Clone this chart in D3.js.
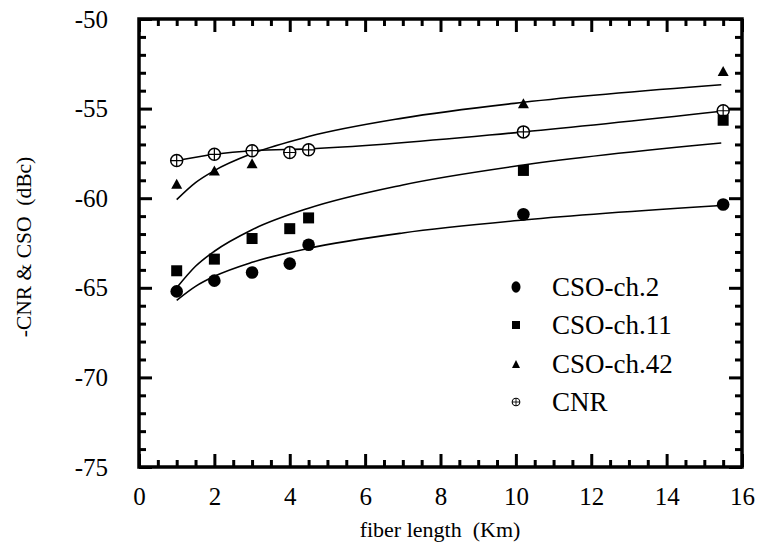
<!DOCTYPE html>
<html><head><meta charset="utf-8">
<script src="https://cdn.jsdelivr.net/npm/d3@7"></script>
<style>
body{margin:0;background:#fff;}
svg text{font-family:"Liberation Serif","Times New Roman",Times,serif !important;fill:#000;}
</style></head>
<body>
<svg id="chart" width="758" height="554"></svg>
<script>
// ---- data ----
const seriesNames = ["CSO-ch.2", "CSO-ch.11", "CSO-ch.42", "CNR"];
const xMeasured = [1, 2, 3, 4, 4.5, 10.2, 15.5];
const cso2 = [-65.2, -64.6, -64.15, -63.65, -62.6, -60.9, -60.35];
const cso11 = [-64.05, -63.4, -62.25, -61.7, -61.1, -58.45, -55.65];
const xCso42 = [1, 2, 3, 10.2, 15.5];
const cso42 = [-59.2, -58.45, -58.05, -54.7, -52.9];
const cnr = [-57.9, -57.55, -57.35, -57.45, -57.3, -56.3, -55.12];
// fitted curves as drawn in the picture
const xFit = [1, 1.5, 2, 3, 4.5, 7, 10.2, 15.45];
const fitCso2 = [-65.7, -64.92, -64.36, -63.58, -62.8, -61.94, -61.22, -60.41];
const fitCso11 = [-65.0, -63.8, -62.96, -61.76, -60.56, -59.26, -58.15, -56.92];
const fitCso42 = [-60.08, -59.13, -58.46, -57.51, -56.56, -55.53, -54.65, -53.67];
const xCnrLine = [1, 2, 3, 4.5, 10.2, 15.45];
const cnrLine = [-57.9, -57.55, -57.35, -57.25, -56.3, -55.15];
const xTicks = [0, 2, 4, 6, 8, 10, 12, 14, 16];
const yTicks = [-50, -55, -60, -65, -70, -75];

const FONT = '"Liberation Serif", "Times New Roman", Times, serif';
const svg = d3.select("#chart");
const x = d3.scaleLinear().domain([0, 16]).range([139, 742]);
const y = d3.scaleLinear().domain([-75, -50]).range([467, 19]);

const xMinor = d3.range(0, 16.01, 0.5).filter(v => v % 2 !== 0);
const yMinor = d3.range(-75, -49.99, 1).filter(v => v % 5 !== 0);

function styleAxis(g, w) {
  g.attr("font-family", null).style("font-family", FONT);
  g.select(".domain").remove();
  g.selectAll(".tick line").attr("stroke", "#000").attr("stroke-width", w);
  g.selectAll("text").style("font-family", FONT).attr("font-size", 25);
}
// bottom
svg.append("g").attr("transform", `translate(0,467)`)
  .call(d3.axisBottom(x).tickValues(xTicks).tickSize(-13).tickPadding(20).tickFormat(d3.format("d")))
  .call(g => styleAxis(g, 3));
svg.append("g").attr("transform", `translate(0,467)`)
  .call(d3.axisBottom(x).tickValues(xMinor).tickSize(-7).tickFormat(""))
  .call(g => styleAxis(g, 3));
// top
svg.append("g").attr("transform", `translate(0,19)`)
  .call(d3.axisTop(x).tickValues(xTicks).tickSize(-13).tickFormat(""))
  .call(g => styleAxis(g, 3));
svg.append("g").attr("transform", `translate(0,19)`)
  .call(d3.axisTop(x).tickValues(xMinor).tickSize(-7).tickFormat(""))
  .call(g => styleAxis(g, 3));
// left
svg.append("g").attr("transform", `translate(139,0)`)
  .call(d3.axisLeft(y).tickValues(yTicks).tickSize(-13).tickPadding(31).tickFormat(d => "-" + Math.abs(d)))
  .call(g => styleAxis(g, 3));
svg.append("g").attr("transform", `translate(139,0)`)
  .call(d3.axisLeft(y).tickValues(yMinor).tickSize(-7).tickFormat(""))
  .call(g => styleAxis(g, 3));
// right
svg.append("g").attr("transform", `translate(742,0)`)
  .call(d3.axisRight(y).tickValues(yTicks).tickSize(-13).tickFormat(""))
  .call(g => styleAxis(g, 3));
svg.append("g").attr("transform", `translate(742,0)`)
  .call(d3.axisRight(y).tickValues(yMinor).tickSize(-7).tickFormat(""))
  .call(g => styleAxis(g, 3));

// frame
svg.append("rect").attr("x", x(0)).attr("y", y(-50))
  .attr("width", x(16) - x(0)).attr("height", y(-75) - y(-50))
  .attr("fill", "none").attr("stroke", "#000").attr("stroke-width", 3.5);

// curves
const line = d3.line().x(d => x(d[0])).y(d => y(d[1])).curve(d3.curveMonotoneX);
const curves = [
  d3.zip(xFit, fitCso2), d3.zip(xFit, fitCso11), d3.zip(xFit, fitCso42), d3.zip(xCnrLine, cnrLine)
];
svg.append("g").selectAll("path").data(curves).join("path")
  .attr("d", line).attr("fill", "none").attr("stroke", "#000").attr("stroke-width", 1.6);

// markers
function circleMark(g, cx, cy, rx, ry) {
  g.append("ellipse").attr("cx", cx).attr("cy", cy).attr("rx", rx).attr("ry", ry).attr("fill", "#000");
}
function squareMark(g, cx, cy, s) {
  g.append("rect").attr("x", cx - s / 2).attr("y", cy - s / 2).attr("width", s).attr("height", s).attr("fill", "#000");
}
function triMark(g, cx, cy, w, h) {
  g.append("path").attr("d", `M${cx - w / 2},${cy + h / 2}L${cx + w / 2},${cy + h / 2}L${cx},${cy - h / 2}Z`).attr("fill", "#000");
}
function cnrMark(g, cx, cy, r, sw) {
  g.append("circle").attr("cx", cx).attr("cy", cy).attr("r", r).attr("fill", "#fff").attr("stroke", "#000").attr("stroke-width", sw);
  g.append("path").attr("d", `M${cx - r},${cy}H${cx + r}M${cx},${cy - r}V${cy + r}`).attr("stroke", "#000").attr("stroke-width", sw * 0.8);
}
const mk = svg.append("g");
xMeasured.forEach((xv, i) => cnrMark(mk, x(xv), y(cnr[i]), 6, 1.5));
xMeasured.forEach((xv, i) => circleMark(mk, x(xv), y(cso2[i]), 6.3, 6.3));
xMeasured.forEach((xv, i) => squareMark(mk, x(xv), y(cso11[i]), 11));
xCso42.forEach((xv, i) => triMark(mk, x(xv), y(cso42[i]), 11, 10));

// legend
const lg = svg.append("g");
const legY = [287, 325, 364, 402];
const markers = [
  (g, cx, cy) => circleMark(g, cx, cy, 4.5, 5.8),
  (g, cx, cy) => squareMark(g, cx, cy, 8),
  (g, cx, cy) => triMark(g, cx, cy, 8, 8),
  (g, cx, cy) => cnrMark(g, cx, cy, 3.8, 1.1)
];
seriesNames.forEach((n, i) => {
  markers[i](lg, 516, legY[i]);
  lg.append("text").attr("x", 552).attr("y", legY[i]).attr("dy", "0.35em")
    .attr("font-size", 27).style("font-family", FONT).text(n);
});

// axis titles
svg.append("text").attr("x", 440).attr("y", 537).attr("text-anchor", "middle")
  .attr("font-size", 22).style("font-family", FONT).style("white-space", "pre").text("fiber length  (Km)");
svg.append("text").attr("transform", "translate(31,247) rotate(-90)").attr("text-anchor", "middle")
  .attr("font-size", 21.5).style("font-family", FONT).style("white-space", "pre").text("-CNR & CSO  (dBc)");
</script>
</body></html>
